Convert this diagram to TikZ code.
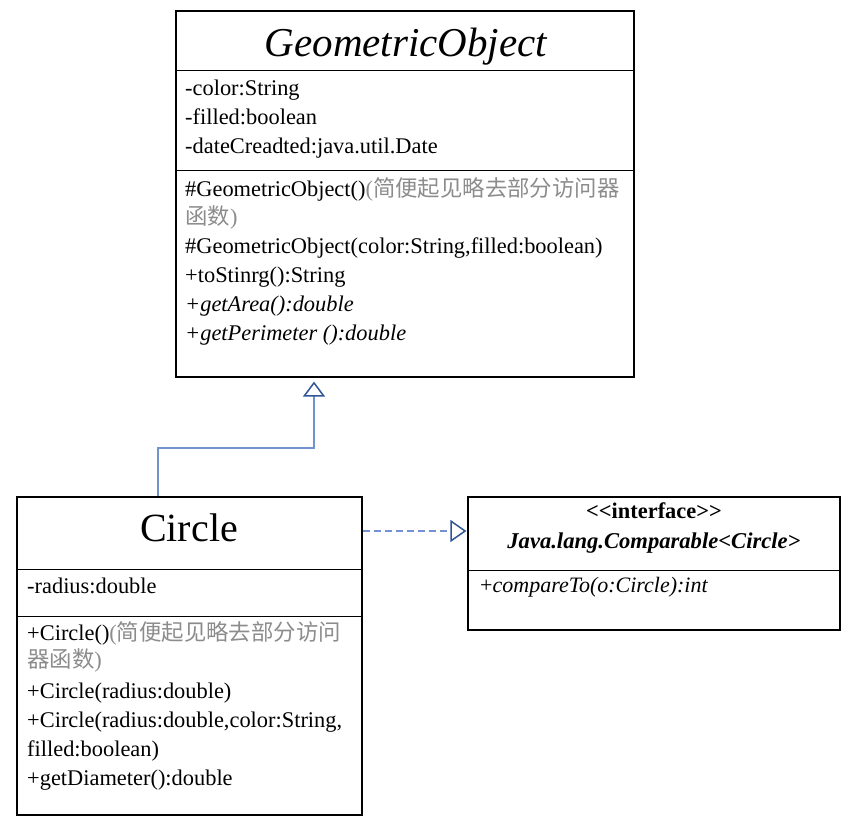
\documentclass[tikz,border=0pt]{standalone}
\usepackage{fontspec}
\setmainfont{Liberation Serif}
\newfontfamily\cjk{Noto Sans CJK SC}
\usetikzlibrary{arrows.meta}
\definecolor{lineblue}{RGB}{114,147,207}
\definecolor{tipblue}{RGB}{47,85,151}
\definecolor{notegray}{RGB}{140,140,140}
\begin{document}
\begin{tikzpicture}[x=1pt,y=-1pt,
  box/.style={draw=black,line width=1.2pt,rectangle,inner sep=0pt},
  txt/.style={anchor=base west,inner sep=0pt,font=\fontsize{22.4}{29}\selectfont},
  ctxt/.style={anchor=base,inner sep=0pt,font=\fontsize{22.4}{29}\selectfont},
  note/.style={text=notegray},
  inh/.style={draw=lineblue,line width=1.5pt,-{Triangle[open,length=15pt,width=22pt,color=tipblue,line width=1.5pt]}},
  real/.style={draw=lineblue,line width=1.5pt,dash pattern=on 7pt off 4pt,-{Triangle[open,length=16pt,width=22pt,color=tipblue,line width=1.5pt]}}]
\useasboundingbox (0,0) rectangle (857,825);
% boxes
\node[box,minimum width=458pt,minimum height=366pt] (geo) at (405,194) {};
\node[box,minimum width=345pt,minimum height=318pt] (circ) at (189.5,656) {};
\node[box,minimum width=372pt,minimum height=133pt] (iface) at (654,563.5) {};
% compartments
\draw[line width=1.2pt] ([yshift=-60pt]geo.north west) -- ([yshift=-60pt]geo.north east);
\draw[line width=1.2pt] ([yshift=-160pt]geo.north west) -- ([yshift=-160pt]geo.north east);
\draw[line width=1.2pt] ([yshift=-73pt]circ.north west) -- ([yshift=-73pt]circ.north east);
\draw[line width=1.2pt] ([yshift=-120pt]circ.north west) -- ([yshift=-120pt]circ.north east);
\draw[line width=1.2pt] ([yshift=-74pt]iface.north west) -- ([yshift=-74pt]iface.north east);
% GeometricObject texts
\node[anchor=base,inner sep=0pt,font=\fontsize{41}{48}\selectfont\itshape] (geot) at (406,56) {GeometricObject};
\node[txt] (g1) at (185,95) {-color:String};
\node[txt] (g2) at (185,124.5) {-filled:boolean};
\node[txt] (g3) at (185,153.5) {-dateCreadted:java.util.Date};
\node[txt] (g4) at (185,196) {\#GeometricObject()\textcolor{notegray}{(\cjk 简便起见略去部分访问器}};
\node[txt,note] (g5) at (185,224) {{\cjk 函数})};
\node[txt] (g6) at (185,253) {\#GeometricObject(color:String,filled:boolean)};
\node[txt] (g7) at (185,282) {+toStinrg():String};
\node[txt,font=\fontsize{22.4}{29}\selectfont\itshape] (g8) at (185,311) {+getArea():double};
\node[txt,font=\fontsize{22.4}{29}\selectfont\itshape] (g9) at (185,340) {+getPerimeter ():double};
% Circle texts
\node[anchor=base,inner sep=0pt,font=\fontsize{40}{48}\selectfont] (ct) at (189,541) {Circle};
\node[txt] (c1) at (27,593) {-radius:double};
\node[txt] (c2) at (27,640) {+Circle()\textcolor{notegray}{(\cjk 简便起见略去部分访问}};
\node[txt,note] (c3) at (27,667.5) {{\cjk 器函数})};
\node[txt] (c4) at (27,698) {+Circle(radius:double)};
\node[txt] (c5) at (27,727) {+Circle(radius:double,color:String,};
\node[txt] (c6) at (27,756.5) {filled:boolean)};
\node[txt] (c7) at (27,785) {+getDiameter():double};
% Interface texts
\node[ctxt,font=\fontsize{22.4}{28}\selectfont\bfseries] (i1) at (654,518.5) {<\kern0pt<interface>\kern0pt>};
\node[ctxt,font=\fontsize{22.6}{28}\selectfont\bfseries\itshape] (i2) at (654,548) {Java.lang.Comparable<Circle>};
\node[txt,font=\fontsize{22}{28}\selectfont] (i3) at (480,592) {+\textit{compareTo(o:Circle):int}};
% connectors
\coordinate (j1) at (158,448);
\coordinate (j2) at (314,448);
\coordinate (dy) at (0,531);
\draw[inh] (circ.north -| j1) -- (j1) -- (j2) -- ([yshift=-4pt]geo.south -| j2);
\draw[real] (circ.east |- dy) -- ([xshift=-1pt]iface.west |- dy);
\end{tikzpicture}
\end{document}
